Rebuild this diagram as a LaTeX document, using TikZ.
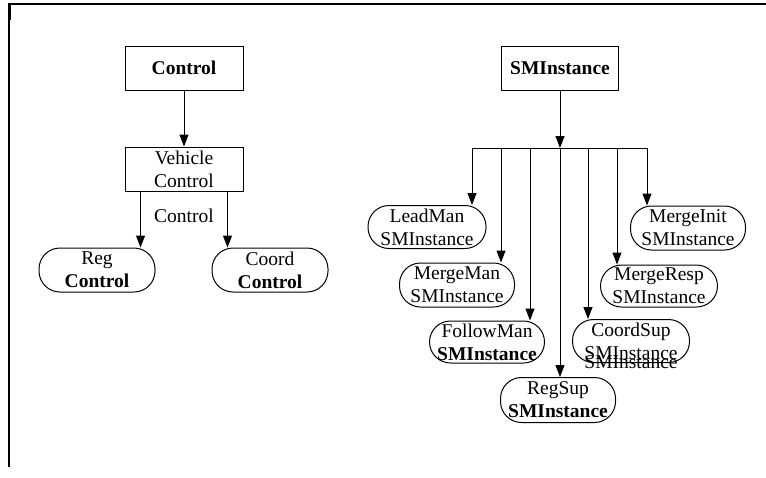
\documentclass[tikz,border=0pt]{standalone}
\usepackage{fontspec}
\setmainfont{Liberation Serif}
\usetikzlibrary{arrows.meta,calc}
\begin{document}
\begin{tikzpicture}[x=1pt,y=-1pt,
  txt/.style={font=\fontsize{19.5}{23}\selectfont},
  box/.style={draw,line width=1pt,inner sep=0pt,minimum width=118pt,minimum height=44pt,align=center,txt},
  pill/.style={draw,line width=1pt,rounded corners=21pt,inner sep=0pt,minimum width=116pt,minimum height=44pt,align=center,txt},
  arr/.style={line width=1pt,-{Triangle[length=12pt,width=9pt]}},
  ln/.style={line width=1pt}]
\useasboundingbox (0,0) rectangle (766,477);
% frame
\draw[line width=2pt] (8,4) -- (766,4);
\draw[line width=1.4pt] (9,4) -- (9,467);
\draw[line width=3pt] (9.5,4) -- (9.5,20);
% left tree
\node[box] (ctrl) at (184,68) {\bfseries Control};
\node[box] (vc) at (184,169) {Vehicle\\Control};
\node[pill] (reg) at (97,270) {Reg\\\bfseries Control};
\node[pill] (coord) at (270,270) {Coord\\\bfseries Control};
\node[txt] (lbl) at (184,216) {Control};
\draw[arr] (ctrl) -- (vc);
\coordinate (v1) at ($(vc.south west)+(16,0)$);
\coordinate (v2) at ($(vc.south east)+(-16,0)$);
\draw[arr] (v1) -- (v1 |- reg.north);
\draw[arr] (v2) -- (v2 |- coord.north);
% right tree
\node[box,minimum width=117pt] (sm) at (560,68) {\bfseries SMInstance};
\node[pill,minimum width=118pt,minimum height=43pt] (leadman) at (427,227) {LeadMan\\SMInstance};
\node[pill,minimum width=115pt] (mergeman) at (457,285) {MergeMan\\SMInstance};
\node[pill,minimum width=115pt,minimum height=42pt] (followman) at (487,342) {FollowMan\\\bfseries SMInstance};
\node[pill,minimum width=115pt,minimum height=45pt] (regsup) at (558,400) {RegSup\\\bfseries SMInstance};
\node[pill,minimum width=117pt,minimum height=43pt] (coordsup) at (631,341) {CoordSup\\SMInstance};
\node[txt] (coordsupdup) at (631,362) {SMInstance};
\node[pill,minimum width=117pt,minimum height=42pt] (mergeresp) at (659,286) {MergeResp\\SMInstance};
\node[pill,minimum width=115pt] (mergeinit) at (688,228) {MergeInit\\SMInstance};
\coordinate (b1) at (472,148);
\coordinate (b2) at (501,148);
\coordinate (b3) at (530,148);
\coordinate (b4) at (560,148);
\coordinate (b5) at (588,148);
\coordinate (b6) at (617,148);
\coordinate (b7) at (647,148);
\draw[arr] (sm) -- (b4);
\draw[ln] (b1) -- (b7);
\draw[arr] (b1) -- (b1 |- leadman.north);
\draw[arr] (b2) -- (b2 |- mergeman.north);
\draw[arr] (b3) -- (b3 |- followman.north);
\draw[arr] (b4) -- (b4 |- regsup.north);
\draw[arr] (b5) -- (b5 |- coordsup.north);
\draw[arr] (b6) -- (b6 |- mergeresp.north);
\draw[arr] (b7) -- (b7 |- mergeinit.north);
\end{tikzpicture}
\end{document}
